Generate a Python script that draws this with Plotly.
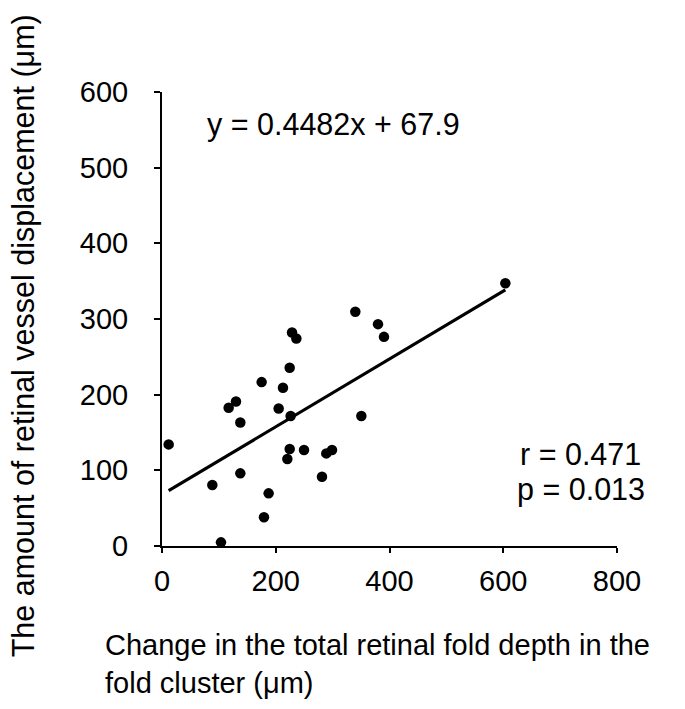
import plotly.graph_objects as go

# Data
fold_depth_change = [11.7, 88.5, 103.7, 117.2, 130.1, 137.7, 137.7, 175.2, 179.3, 187.5,
                     205.1, 212.7, 224.5, 228.6, 236.2, 226.2, 224.5, 220.4, 249.7, 281.3,
                     288.9, 298.9, 339.9, 350.5, 379.8, 390.3, 603.7]
vessel_displacement = [134.3, 80.6, 4.8, 182.7, 191.0, 163.3, 96.0, 216.6, 37.9, 69.6,
                       181.8, 209.1, 235.5, 282.2, 274.2, 171.7, 128.1, 114.9, 126.8, 91.6,
                       122.4, 126.8, 309.5, 171.7, 293.2, 276.4, 347.3]
slope = 0.4482
intercept = 67.9
x_ticks = [0, 200, 400, 600, 800]
y_ticks = [0, 100, 200, 300, 400, 500, 600]

FONT = "Arial, Liberation Sans, sans-serif"
W, H = 685, 709
L, R, T, B = 162.3, 67.7, 91.7, 163
PW, PH = W - L - R, H - T - B


def px_to_paper(px, py):
    return (px - L) / PW, (H - B - py) / PH


fit_x = [min(fold_depth_change), max(fold_depth_change)]
fit_y = [slope * v + intercept for v in fit_x]

fig = go.Figure()
fig.add_trace(go.Scatter(x=fit_x, y=fit_y, mode="lines",
                         line=dict(color="black", width=3.2), showlegend=False,
                         hoverinfo="skip"))
fig.add_trace(go.Scatter(x=fold_depth_change, y=vessel_displacement, mode="markers",
                         marker=dict(color="black", size=10.5), showlegend=False,
                         cliponaxis=False))

fig.update_layout(
    width=W, height=H,
    margin=dict(l=L, r=R, t=T, b=B, pad=0),
    paper_bgcolor="white", plot_bgcolor="white",
    font=dict(family=FONT, size=29, color="black"),
    xaxis=dict(range=[0, 800], tickvals=x_ticks, showgrid=False, zeroline=False,
               showline=True, linecolor="black", linewidth=2,
               ticks="outside", ticklen=5, tickwidth=2, tickcolor="black",
               tickfont=dict(size=29), ticklabelstandoff=3),
    yaxis=dict(range=[0, 600], tickvals=y_ticks, showgrid=False, zeroline=False,
               showline=True, linecolor="black", linewidth=2,
               ticks="outside", ticklen=6, tickwidth=2, tickcolor="black",
               tickfont=dict(size=29), ticklabelstandoff=20),
)

# regression equation
fig.add_annotation(x=75, y=556.8, xref="x", yref="y", text="y = 0.4482x + 67.9",
                   showarrow=False, xanchor="left", yanchor="middle",
                   font=dict(size=30.5))
# r and p
fig.add_annotation(x=736, y=121.5, xref="x", yref="y", text="r = 0.471",
                   showarrow=False, xanchor="center", yanchor="middle",
                   font=dict(size=30.5))
fig.add_annotation(x=736, y=75.3, xref="x", yref="y", text="p = 0.013",
                   showarrow=False, xanchor="center", yanchor="middle",
                   font=dict(size=30.5))

# x-axis title (two lines, left aligned)
xt_x, xt_y = px_to_paper(103, 664)
fig.add_annotation(x=xt_x, y=xt_y, xref="paper", yref="paper",
                   text="Change in the total retinal fold depth in the<br>fold cluster (μm)",
                   showarrow=False, xanchor="left", yanchor="middle", align="left",
                   font=dict(size=29))
# y-axis title (rotated)
yt_x, yt_y = px_to_paper(24, 335.5)
fig.add_annotation(x=yt_x, y=yt_y, xref="paper", yref="paper",
                   text="The amount of retinal vessel displacement (μm)", textangle=-90,
                   showarrow=False, xanchor="center", yanchor="middle",
                   font=dict(size=30.5))

fig.write_html("out.html")
